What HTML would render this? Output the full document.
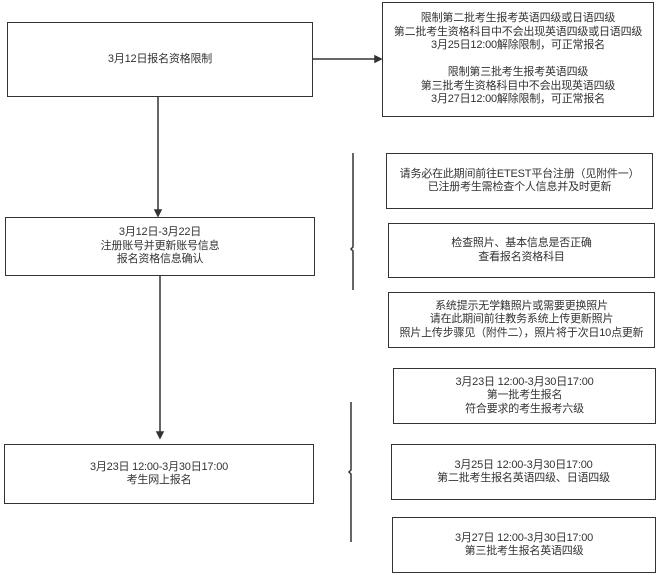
<!DOCTYPE html>
<html><head><meta charset="utf-8"><style>
body{margin:0;width:658px;height:575px;background:#fff;position:relative;overflow:hidden;font-family:"Liberation Sans","Noto Sans CJK SC",sans-serif;}
.b{position:absolute;box-sizing:border-box;border:1.5px solid #333;display:flex;align-items:center;justify-content:center;text-align:center;font-size:11px;line-height:13.5px;color:#333;white-space:nowrap;letter-spacing:-0.2px;}
</style></head><body>
<div class="b" style="left:7px;top:22px;width:306px;height:75px">3月12日报名资格限制</div>
<div class="b" style="left:382px;top:2px;width:272px;height:115px">限制第二批考生报考英语四级或日语四级<br>第二批考生资格科目中不会出现英语四级或日语四级<br>3月25日12:00解除限制，可正常报名<br><br>限制第三批考生报考英语四级<br>第三批考生资格科目中不会出现英语四级<br>3月27日12:00解除限制，可正常报名</div>
<div class="b" style="left:5px;top:217px;width:310px;height:59px">3月12日-3月22日<br>注册账号并更新账号信息<br>报名资格信息确认</div>
<div class="b" style="left:386px;top:153px;width:267px;height:56px">请务必在此期间前往ETEST平台注册（见附件一）<br>已注册考生需检查个人信息并及时更新</div>
<div class="b" style="left:388px;top:223px;width:267px;height:55px">检查照片、基本信息是否正确<br>查看报名资格科目</div>
<div class="b" style="left:388px;top:292px;width:267px;height:56px">系统提示无学籍照片或需要更换照片<br>请在此期间前往教务系统上传更新照片<br>照片上传步骤见（附件二），照片将于次日10点更新</div>
<div class="b" style="left:4px;top:444px;width:310px;height:60px">3月23日 12:00-3月30日17:00<br>考生网上报名</div>
<div class="b" style="left:393px;top:368px;width:263px;height:56px">3月23日 12:00-3月30日17:00<br>第一批考生报名<br>符合要求的考生报考六级</div>
<div class="b" style="left:391px;top:444px;width:265px;height:56px">3月25日 12:00-3月30日17:00<br>第二批考生报名英语四级、日语四级</div>
<div class="b" style="left:392px;top:517px;width:264px;height:56px">3月27日 12:00-3月30日17:00<br>第三批考生报名英语四级</div>
<svg width="658" height="575" style="position:absolute;left:0;top:0" fill="none" stroke="#333" stroke-width="1.5">
<line x1="313" y1="59" x2="377" y2="59"/><path d="M375 56 L381 59 L375 62 Z" fill="#333"/>
<line x1="158" y1="97" x2="158" y2="211"/><path d="M155 210 L158 216 L161 210 Z" fill="#333"/>
<line x1="160" y1="276" x2="160" y2="433"/><path d="M157 432 L160 438 L163 432 Z" fill="#333"/>
<path d="M353 153 L353 247 L351 249 L353 251 L353 290"/>
<path d="M351 402 L351 470 L349 472 L351 474 L351 542"/>
</svg>
</body></html>
